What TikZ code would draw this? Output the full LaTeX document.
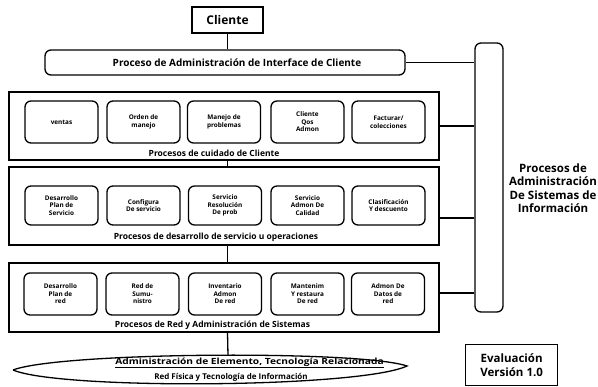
\documentclass[tikz,border=0pt]{standalone}
\usepackage{fontspec}
\setmainfont{Open Sans}
\begin{document}
\begin{tikzpicture}[x=1pt,y=-1pt,line width=1.3pt,
  sec/.style={draw,minimum width=430pt,inner sep=0pt},
  inbox/.style={draw,rounded corners=6pt,minimum width=73pt,minimum height=42pt,inner sep=1pt,align=center,font=\bfseries\fontsize{6.4}{7.5}\selectfont},
  lbl/.style={font=\bfseries\fontsize{8.5}{9}\selectfont,inner sep=0pt},
  big/.style={font=\bfseries\fontsize{11.5}{13.5}\selectfont,align=center}]
\useasboundingbox (0,0) rectangle (598,387);
% top
\node[draw,minimum width=71pt,minimum height=26pt,big,font=\bfseries\fontsize{12}{13}\selectfont] (cliente) at (227.5,20) {Cliente};
\node[draw,rounded corners=6pt,minimum width=360pt,minimum height=25pt] (iface) at (225,62.5) {};
\node[font=\bfseries\fontsize{10}{11}\selectfont] (ifacet) at (237,62.5) {Proceso de Administración de Interface de Cliente};
\node[draw,rounded corners=6pt,minimum width=28pt,minimum height=269pt] (bar) at (489,177.5) {};
\node[big] (sis) at (553,188) {Procesos de\\Administración\\De Sistemas de\\Información};
% care
\node[sec,minimum height=68pt] (care) at (224,126) {};
\node[inbox] (c1) at (61.5,122) {ventas};
\node[inbox] (c2) at (143.5,122) {Orden de\\manejo};
\node[inbox] (c3) at (224,122) {Manejo de\\problemas};
\node[inbox] (c4) at (307.5,122) {Cliente\\Qos\\Admon};
\node[inbox] (c5) at (388.5,122) {Facturar/\\colecciones};
\node[lbl] (carel) at (214,153) {Procesos de cuidado de Cliente};
% dev
\node[sec,minimum height=78pt] (dev) at (224,206) {};
\node[inbox,minimum height=39pt] (d1) at (61.5,205.5) {Desarrollo\\Plan de\\Servicio};
\node[inbox,minimum height=39pt] (d2) at (143.5,205.5) {Configura\\De servicio};
\node[inbox,minimum height=39pt] (d3) at (225,205.5) {Servicio\\Resolución\\De prob};
\node[inbox,minimum height=39pt] (d4) at (307.5,205.5) {Servicio\\Admon De\\Calidad};
\node[inbox,minimum height=39pt] (d5) at (388.5,205.5) {Clasificación\\Y descuento};
\node[lbl] (devl) at (216,237) {Procesos de desarrollo de servicio u operaciones};
% net
\node[sec,minimum height=69pt] (net) at (224,297.5) {};
\node[inbox] (n1) at (60.5,294) {Desarrollo\\Plan de\\red};
\node[inbox] (n2) at (142.5,294) {Red de\\Sumu-\\nistro};
\node[inbox] (n3) at (225,294) {Inventario\\Admon\\De red};
\node[inbox] (n4) at (307.5,294) {Mantenim\\Y restaura\\De red};
\node[inbox] (n5) at (388,294) {Admon De\\Datos de\\red};
\node[lbl] (netl) at (212.5,325) {Procesos de Red y Administración de Sistemas};
% lens
\coordinate (elemtop) at (228,355.5);
\draw (13,370) .. controls (60,352) and (360,350) .. (407,366)
      .. controls (360,388) and (60,390) .. (13,370);
\node[font=\bfseries\fontsize{8.5}{9}\selectfont,inner sep=0pt] (elemt) at (249.5,363) {\scalebox{1.2}[1]{\underline{Administración de Elemento, Tecnología Relacionada}}};
\node[font=\bfseries\fontsize{8}{9}\selectfont,inner sep=0pt] (redt) at (231,377.5) {Red Física y Tecnología de Información};
% evaluation
\node[draw,minimum width=92pt,minimum height=41pt,big,anchor=north west] (eval) at (465,344) {Evaluación\\Versión 1.0};
% connectors
\draw (cliente.south) -- (cliente.south |- iface.north);
\draw (iface.east) -- (iface.east -| bar.west);
\draw (care.east) -- (care.east -| bar.west);
\draw ([yshift=-12pt]dev.east) -- ([yshift=-12pt]dev.east -| bar.west);
\draw ([yshift=4.5pt]net.east) -- ([yshift=4.5pt]net.east -| bar.west);
\draw (cliente.south |- care.south) -- (cliente.south |- dev.north);
\draw (cliente.south |- dev.south) -- (cliente.south |- net.north);
\draw (cliente.south |- net.south) -- (elemtop);
\end{tikzpicture}
\end{document}
